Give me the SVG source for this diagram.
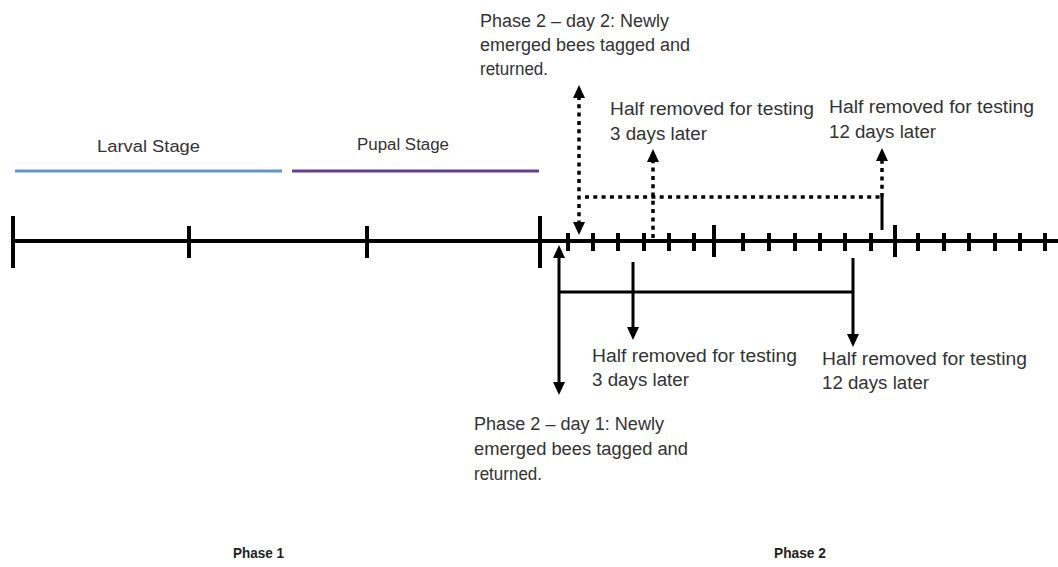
<svg xmlns="http://www.w3.org/2000/svg" width="1058" height="567" viewBox="0 0 1058 567">
<style>
text{font-family:"Liberation Sans",Arial,sans-serif;font-size:18px;fill:#333}
.b{font-weight:bold;font-size:14px;fill:#222}
.axis{stroke:#000;stroke-width:4;fill:none}
.tick{stroke:#000;stroke-width:4}
.sol{stroke:#000;stroke-width:3;fill:none}
.dot{stroke:#000;stroke-width:3.5;stroke-dasharray:4 4.3;fill:none}
.head{fill:#000}
</style>
<rect width="1058" height="567" fill="#fff"/>
<g id="stages">
<line x1="15" y1="171" x2="282" y2="171" stroke="#6496c8" stroke-width="3"/>
<line x1="292" y1="171" x2="539" y2="171" stroke="#6a3d8f" stroke-width="3"/>
<text x="97" y="152" textLength="103" lengthAdjust="spacingAndGlyphs" style="font-size:16px">Larval Stage</text>
<text x="357" y="150" textLength="92" lengthAdjust="spacingAndGlyphs" style="font-size:16px">Pupal Stage</text>
</g>
<g id="timeline">
<line class="axis" x1="12" y1="241" x2="1058" y2="241"/>
<path class="tick" d="M13 216V268M540 216V268M189 226V258M367 226V258M714 225V257M895 225V257"/>
<path class="tick" d="M568 233V251M593 233V251M618 233V251M644 233V251M669 233V251M694 233V251M743 233V251M769 233V251M795 233V251M820 233V251M845 233V251M871 233V251M918 233V251M944 233V251M969 233V251M995 233V251M1020 233V251M1045 233V251"/>
</g>
<g id="connectors">
<line class="dot" x1="579" y1="96" x2="579" y2="224"/>
<polygon class="head" points="579,85 573,98 585,98"/>
<polygon class="head" points="579,235 573,222 585,222"/>
<line class="dot" x1="653" y1="238" x2="653" y2="160"/>
<polygon class="head" points="653,149 647,162 659,162"/>
<line class="dot" x1="585" y1="197" x2="882" y2="197"/>
<line class="dot" x1="882" y1="197" x2="882" y2="159"/>
<polygon class="head" points="882,148 876,161 888,161"/>
<line class="sol" x1="882" y1="197" x2="882" y2="230"/>
<line class="sol" x1="559" y1="256" x2="559" y2="384"/>
<polygon class="head" points="559,245 553,258 565,258"/>
<polygon class="head" points="559,395 553,382 565,382"/>
<line class="sol" x1="559" y1="292" x2="853" y2="292"/>
<line class="sol" x1="633" y1="262" x2="633" y2="329"/>
<polygon class="head" points="633,340 627,327 639,327"/>
<line class="sol" x1="853" y1="258" x2="853" y2="336"/>
<polygon class="head" points="853,347 847,334 859,334"/>
</g>
<g id="day2-label">
<text x="480" y="27" textLength="189" lengthAdjust="spacingAndGlyphs">Phase 2 – day 2: Newly</text>
<text x="480" y="51" textLength="210" lengthAdjust="spacingAndGlyphs">emerged bees tagged and</text>
<text x="480" y="75" textLength="68" lengthAdjust="spacingAndGlyphs">returned.</text>
</g>
<g id="top-3days">
<text x="610" y="115" textLength="204" lengthAdjust="spacingAndGlyphs">Half removed for testing</text>
<text x="610" y="140" textLength="97" lengthAdjust="spacingAndGlyphs">3 days later</text>
</g>
<g id="top-12days">
<text x="829" y="113" textLength="205" lengthAdjust="spacingAndGlyphs">Half removed for testing</text>
<text x="829" y="138" textLength="107" lengthAdjust="spacingAndGlyphs">12 days later</text>
</g>
<g id="bottom-3days">
<text x="592" y="362" textLength="205" lengthAdjust="spacingAndGlyphs">Half removed for testing</text>
<text x="592" y="386" textLength="97" lengthAdjust="spacingAndGlyphs">3 days later</text>
</g>
<g id="bottom-12days">
<text x="822" y="365" textLength="205" lengthAdjust="spacingAndGlyphs">Half removed for testing</text>
<text x="822" y="389" textLength="107" lengthAdjust="spacingAndGlyphs">12 days later</text>
</g>
<g id="day1-label">
<text x="474" y="430" textLength="190" lengthAdjust="spacingAndGlyphs">Phase 2 – day 1: Newly</text>
<text x="474" y="455" textLength="214" lengthAdjust="spacingAndGlyphs">emerged bees tagged and</text>
<text x="474" y="480" textLength="68" lengthAdjust="spacingAndGlyphs">returned.</text>
</g>
<g id="phase1"><text class="b" x="233" y="558" textLength="51" lengthAdjust="spacingAndGlyphs">Phase 1</text></g>
<g id="phase2"><text class="b" x="774" y="558" textLength="52" lengthAdjust="spacingAndGlyphs">Phase 2</text></g>
</svg>
